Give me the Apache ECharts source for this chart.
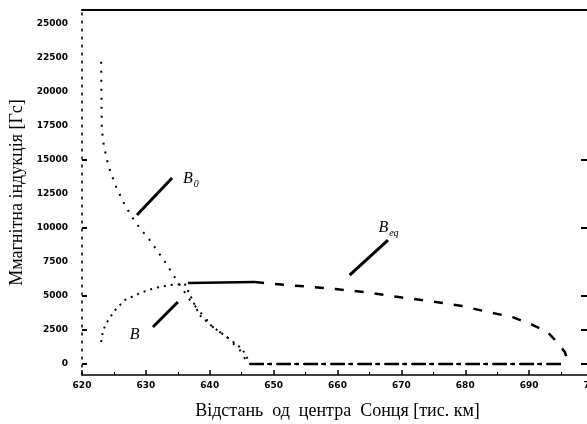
<!DOCTYPE html>
<html>
<head>
<meta charset="utf-8">
<script src="https://cdn.jsdelivr.net/npm/echarts@6/dist/echarts.min.js"></script>
<style>
  html, body { margin: 0; padding: 0; background: #fff; }
  #chart { width: 587px; height: 424px; }
</style>
</head>
<body>
<div id="chart"></div>
<script>
// відстань (тис. км) та індукція (Гс)
const b0X = [623.0, 623.1, 623.4, 624.1, 625.2, 626.7, 628.3, 630.6, 633.0, 635.0, 636.9, 638.5, 640.5, 642.7, 644.7, 646.0, 695.5];
const b0Y = [22200, 17200, 16100, 14600, 13160, 11690, 10440, 9110, 7500, 6030, 4700, 3820, 2720, 1980, 1030, 0, 0];

const bX = [623.0, 623.3, 624.1, 625.2, 626.7, 629.1, 631.4, 633.8, 636.1, 638.4, 640.5, 642.7, 644.7, 645.5, 646.3];
const bY = [1620, 2500, 3230, 3970, 4700, 5220, 5590, 5810, 5880, 3600, 2720, 1980, 1250, 810, 0];
// ділянка B = 0
const bZeroX = [646.3, 695.2];
const bZeroY = [0, 0];

const beqSolidX = [636.6, 647.1];
const beqSolidY = [5950, 6030];
const beqX = [647.1, 650.2, 656.0, 659.7, 664.3, 669.6, 674.5, 679.5, 684.3, 687.4, 690.6, 692.9, 694.5, 695.6, 695.9, 695.7];
const beqY = [6030, 5880, 5660, 5510, 5290, 4920, 4630, 4260, 3750, 3450, 2870, 2350, 1540, 880, 440, 0];

const xTicks = [620, 630, 640, 650, 660, 670, 680, 690, 700];
const yLabels = [0, 2500, 5000, 7500, 10000, 12500, 15000, 17500, 20000, 22500, 25000];
const yTicks = [0, 2500, 5000, 10000, 15000];

// підписи кривих: [x1, y1, x2, y2] лінії-вказівки та позиція тексту
const leaderB0 = [628.6, 10950, 634.1, 13670];
const leaderBeq = [661.9, 6540, 667.9, 9110];
const leaderB = [631.1, 2720, 635.0, 4560];
const textB0 = [635.8, 13600];
const textBeq = [666.4, 10000];
const textB = [629.0, 2150];

const zip = (xs, ys) => xs.map((x, i) => [x, ys[i]]);

const serif = 'Liberation Serif';
const tickFont = { fontSize: 9, color: '#000', fontFamily: 'DejaVu Sans', fontWeight: 'bold', formatter: v => String(v) };

function leader(c) {
  return [{ coord: [c[0], c[1]] }, { coord: [c[2], c[3]] }];
}

function tag(c, main, sub, align) {
  return {
    coord: c,
    symbolSize: 0,
    label: {
      show: true,
      position: 'inside',
      align: align,
      formatter: sub ? '{m|' + main + '}{s|' + sub + '}' : '{m|' + main + '}',
      rich: {
        m: { fontFamily: serif, fontStyle: 'italic', fontSize: 16, color: '#000' },
        s: { fontFamily: serif, fontStyle: 'italic', fontSize: 10, color: '#000', padding: [10, 0, 0, 1] }
      }
    }
  };
}

const chart = echarts.init(document.getElementById('chart'));

const option = {
  animation: false,
  backgroundColor: '#fff',
  grid: { left: 82, right: -6, top: 10, bottom: 49, outerBoundsMode: 'none', containLabel: false },
  xAxis: [
    {
      type: 'value',
      min: 620, max: 700, interval: 10,
      name: 'Відстань  од  центра  Сонця [тис. км]',
      nameLocation: 'middle',
      nameGap: 27,
      nameTextStyle: { fontFamily: serif, fontSize: 18, color: '#000' },
      axisLine: { onZero: false, lineStyle: { color: '#000', width: 1.5 } },
      axisTick: { inside: true, length: 5, lineStyle: { color: '#000', width: 1.5 } },
      minorTick: { show: true, splitNumber: 2, length: 3, lineStyle: { color: '#000' } },
      axisLabel: Object.assign({ margin: 6 }, tickFont),
      splitLine: { show: false }
    },
    {
      type: 'value',
      position: 'top',
      min: 620, max: 700,
      axisLine: { show: true, onZero: false, lineStyle: { color: '#000', width: 2 } },
      axisTick: { show: false },
      axisLabel: { show: false },
      splitLine: { show: false }
    }
  ],
  yAxis: [
    {
      type: 'value',
      min: -800, max: 26000,
      name: 'Ммагнітна індукція [Гс]',
      nameLocation: 'middle',
      nameGap: 56,
      nameTextStyle: { fontFamily: serif, fontSize: 18, color: '#000' },
      axisLine: { show: true, onZero: false, lineStyle: { color: '#000', width: 1.5, type: [2, 6] } },
      axisTick: { inside: true, length: 5, customValues: yTicks, lineStyle: { color: '#000', width: 2 } },
      axisLabel: Object.assign({ margin: 14, customValues: yLabels }, tickFont),
      splitLine: { show: false }
    },
    {
      type: 'value',
      position: 'right',
      min: -800, max: 26000,
      axisLine: { show: false, onZero: false },
      axisTick: { show: true, inside: true, length: 12, customValues: yTicks, lineStyle: { color: '#000', width: 2 } },
      axisLabel: { show: false },
      splitLine: { show: false }
    }
  ],
  series: [
    {
      name: 'B0',
      type: 'line',
      data: zip(b0X, b0Y),
      showSymbol: false,
      lineStyle: { color: '#000', width: 2, type: [2, 7] },
      markLine: {
        silent: true, symbol: 'none', label: { show: false },
        lineStyle: { color: '#000', width: 3, type: 'solid' },
        data: [leader(leaderB0), leader(leaderBeq), leader(leaderB)]
      },
      markPoint: {
        silent: true,
        data: [tag(textB0, 'B', '0', 'left'), tag(textBeq, 'B', 'eq', 'left'), tag(textB, 'B', '', 'right')]
      }
    },
    {
      name: 'B',
      type: 'line',
      data: zip(bX, bY),
      showSymbol: false,
      lineStyle: { color: '#000', width: 2, type: [2, 5] }
    },
    {
      name: 'B',
      type: 'line',
      data: zip(bZeroX, bZeroY),
      showSymbol: false,
      lineStyle: { color: '#000', width: 2.5, type: [14, 5, 3, 5] }
    },
    {
      name: 'Beq',
      type: 'line',
      data: zip(beqSolidX, beqSolidY),
      showSymbol: false,
      lineStyle: { color: '#000', width: 2.5 }
    },
    {
      name: 'Beq',
      type: 'line',
      data: zip(beqX, beqY),
      showSymbol: false,
      lineStyle: { color: '#000', width: 2.5, type: [9, 11] }
    }
  ]
};

chart.setOption(option);
</script>
</body>
</html>
